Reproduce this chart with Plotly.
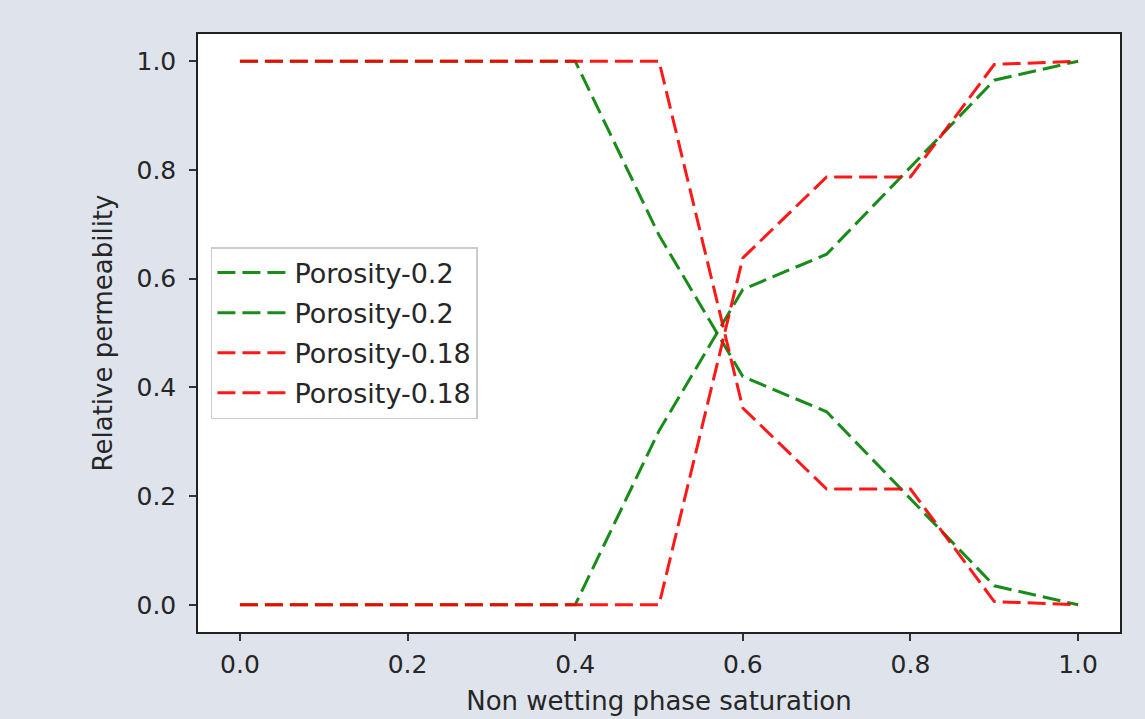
import plotly.graph_objects as go

x = [0.0, 0.1, 0.2, 0.3, 0.4, 0.5, 0.6, 0.7, 0.8, 0.9, 1.0]
green_dec = [1.0, 1.0, 1.0, 1.0, 1.0, 0.68, 0.42, 0.355, 0.195, 0.035, 0.0]
green_inc = [0.0, 0.0, 0.0, 0.0, 0.0, 0.32, 0.58, 0.645, 0.805, 0.965, 1.0]
red_dec = [1.0, 1.0, 1.0, 1.0, 1.0, 1.0, 0.362, 0.213, 0.213, 0.006, 0.0]
red_inc = [0.0, 0.0, 0.0, 0.0, 0.0, 0.0, 0.638, 0.787, 0.787, 0.994, 1.0]
names = ["Porosity-0.2", "Porosity-0.2", "Porosity-0.18", "Porosity-0.18"]
x_ticks = [0.0, 0.2, 0.4, 0.6, 0.8, 1.0]
y_ticks = [0.0, 0.2, 0.4, 0.6, 0.8, 1.0]

FONT = "DejaVu Sans"
series = [(green_dec, "green"), (green_inc, "green"), (red_dec, "red"), (red_inc, "red")]

fig = go.Figure()
for i, ((ys, col), nm) in enumerate(zip(series, names)):
    fig.add_trace(go.Scatter(
        x=x, y=ys, mode="lines", name=nm, legendgroup=f"g{i}",
        line=dict(color=col, width=3, dash="18px,7px"),
        opacity=0.9,
    ))

axis_common = dict(
    showgrid=False, zeroline=False, showline=True, linecolor="#222222", linewidth=1.5,
    mirror=True, ticks="outside", ticklen=7, tickwidth=1.5, tickcolor="#333333",
    tickfont=dict(family=FONT, size=25, color="#262626"), automargin=False,
)

fig.update_layout(
    width=1145, height=719,
    margin=dict(l=198, r=25, t=34, b=87),
    paper_bgcolor="#dfe3ec",
    plot_bgcolor="white",
    font=dict(family=FONT, color="#262626"),
    xaxis=dict(range=[-0.05, 1.05], tickvals=x_ticks, ticktext=[f"{v:.1f}" for v in x_ticks],
               title=dict(text="Non wetting phase saturation", font=dict(family=FONT, size=26, color="#262626"), standoff=14),
               ticklabelstandoff=2,
               **axis_common),
    yaxis=dict(range=[-0.05, 1.05], tickvals=y_ticks, ticktext=[f"{v:.1f}" for v in y_ticks],
               title=dict(text="Relative permeability", font=dict(family=FONT, size=26, color="#262626"), standoff=16),
               ticklabelstandoff=8,
               **axis_common),
    legend=dict(
        x=0.014, y=0.5, xanchor="left", yanchor="middle",
        bgcolor="white", bordercolor="#cccccc", borderwidth=1.5,
        font=dict(family=FONT, size=27, color="#262626"),
        tracegroupgap=2, itemwidth=72,
    ),
    showlegend=True,
)

fig.write_html("out.html")
